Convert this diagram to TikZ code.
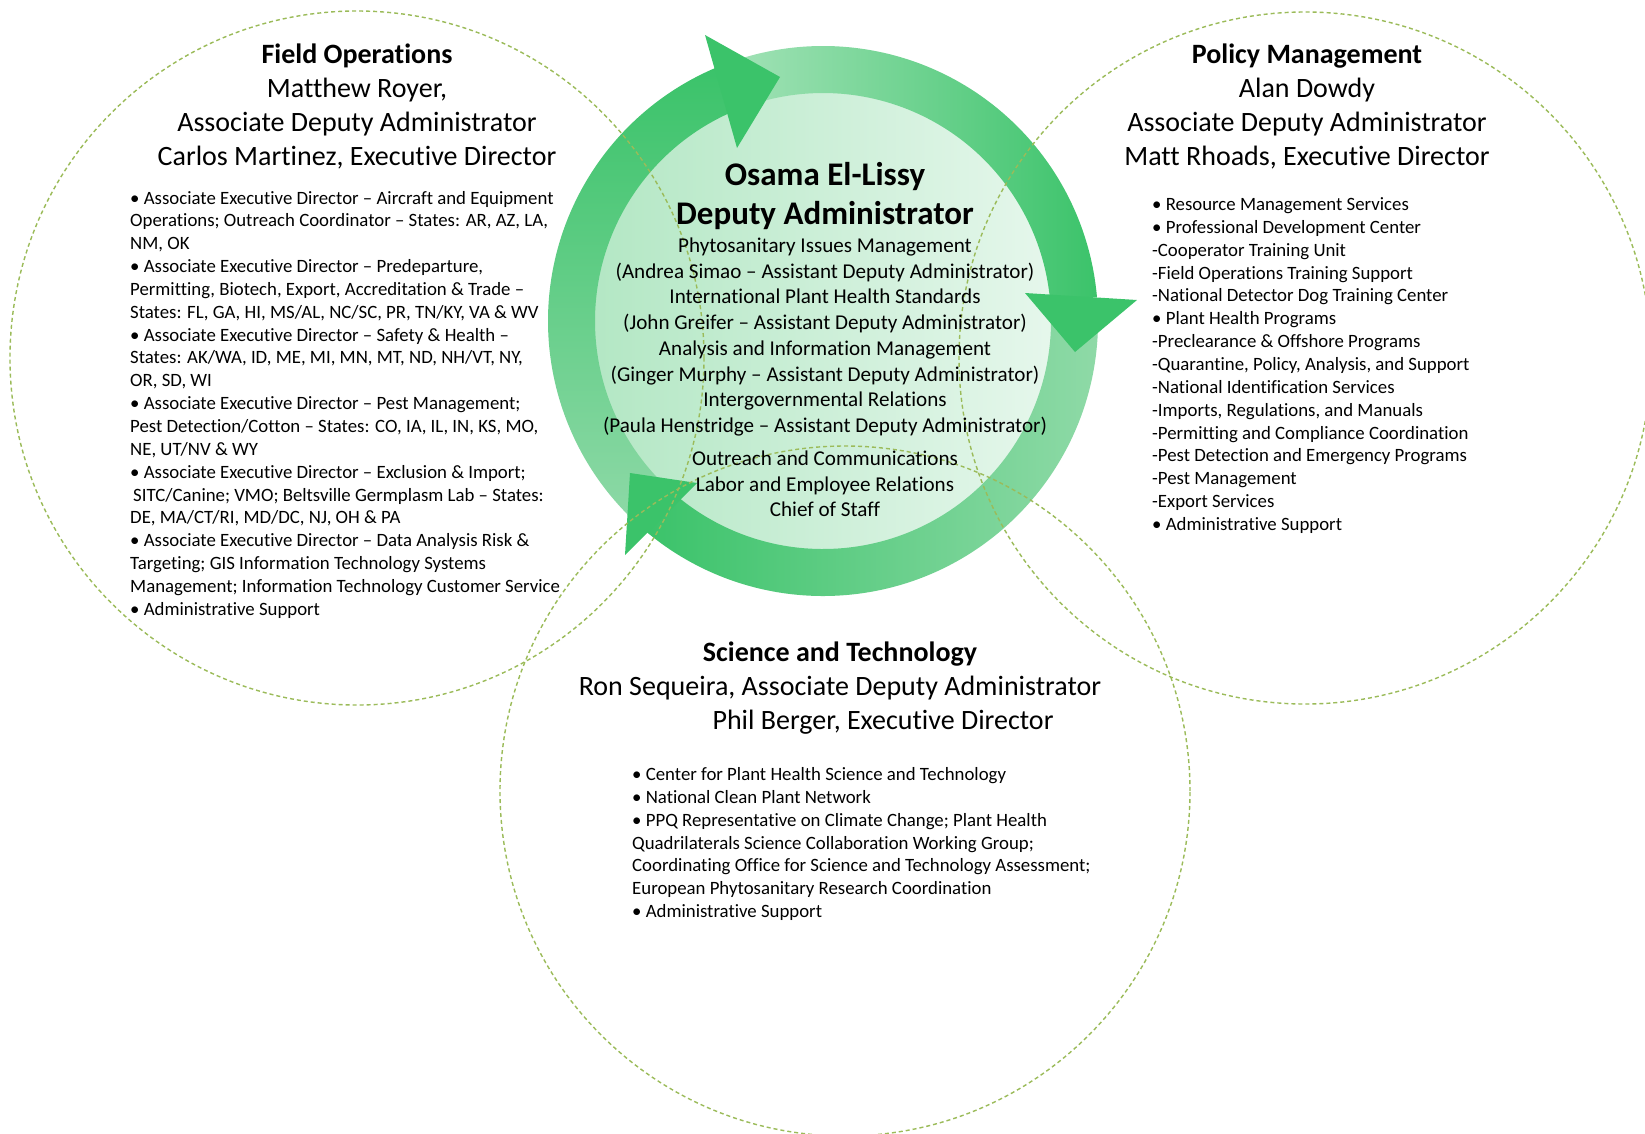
\documentclass[tikz,border=0pt]{standalone}
\usepackage{fontspec}
\setmainfont{Carlito}[Ligatures=NoCommon]
\definecolor{ringdark}{HTML}{3BC36A}
\definecolor{aonelight}{HTML}{8ED9A7}
\definecolor{atwolight}{HTML}{A5E3B9}
\definecolor{athreelight}{HTML}{90DAA8}
\definecolor{discleft}{HTML}{B3E7C4}
\definecolor{discright}{HTML}{E6F7EC}
\definecolor{dashgreen}{HTML}{9BBB59}
\begin{document}
\begin{tikzpicture}[x=1pt,y=-1pt,
  dashcirc/.style={circle, draw=dashgreen, line width=1.4pt, dash pattern=on 4pt off 3pt, inner sep=0pt},
  headtxt/.style={inner sep=0pt, anchor=base, font=\fontsize{28}{33.9}\selectfont},
  listtxt/.style={inner sep=0pt, anchor=base west, font=\fontsize{18.8}{22.85}\selectfont},
  bosstxt/.style={inner sep=0pt, anchor=base, font=\fontsize{33}{39}\selectfont\bfseries},
  midtxt/.style={inner sep=0pt, anchor=base, font=\fontsize{21.1}{25.7}\selectfont}]
\useasboundingbox (0,0) rectangle (1645,1133);
\fill[white] (0,0) rectangle (1645,1133);
\clip (0,0) rectangle (1645,1133);
\coordinate (c) at (823,321);
% inner disc
\shade[left color=discleft, right color=discright] (c) circle[radius=232];
% arrow bands
\shade[right color=athreelight, left color=ringdark]
  ([shift={(-3:275)}]c) arc[start angle=-3, end angle=130, radius=275]
  -- ([shift={(130:228)}]c) arc[start angle=130, end angle=-3, radius=228] -- cycle;
\shade[left color=atwolight, right color=ringdark]
  ([shift={(-112:275)}]c) arc[start angle=-112, end angle=-5, radius=275]
  -- ([shift={(-5:228)}]c) arc[start angle=-5, end angle=-112, radius=228] -- cycle;
\shade[bottom color=aonelight, top color=ringdark]
  ([shift={(-228:275)}]c) arc[start angle=-228, end angle=-113, radius=275]
  -- ([shift={(-113:228)}]c) arc[start angle=-113, end angle=-228, radius=228] -- cycle;
% arrow heads
\fill[ringdark] (705,35) -- (780,77) -- (737,148) -- cycle;
\fill[ringdark] (1137,300) -- (1075,352) -- (1025,293) -- cycle;
\fill[ringdark] (625,555) -- (630,473) -- (697,483) -- cycle;
% dashed circles
\node[dashcirc, minimum size=694pt] (fo) at (357,358) {};
\node[dashcirc, minimum size=692pt] (pm) at (1305,358) {};
\node[dashcirc, minimum size=690pt] (st) at (845,791) {};
% Field Operations
\node[headtxt] (fohead) at (357,63.5) {\begin{tabular}[t]{@{}c@{}}\bfseries Field Operations\\ Matthew Royer,\\ Associate Deputy Administrator\\ Carlos Martinez, Executive Director\end{tabular}};
\node[listtxt] (folist) at (130,204) {\begin{tabular}[t]{@{}l@{}}
• Associate Executive Director – Aircraft and Equipment\\
Operations; Outreach Coordinator – States: AR, AZ, LA,\\
NM, OK\\
• Associate Executive Director – Predeparture,\\
Permitting, Biotech, Export, Accreditation \& Trade –\\
States: FL, GA, HI, MS/AL, NC/SC, PR, TN/KY, VA \& WV\\
• Associate Executive Director – Safety \& Health –\\
States: AK/WA, ID, ME, MI, MN, MT, ND, NH/VT, NY,\\
OR, SD, WI\\
• Associate Executive Director – Pest Management;\\
Pest Detection/Cotton – States: CO, IA, IL, IN, KS, MO,\\
NE, UT/NV \& WY\\
• Associate Executive Director – Exclusion \& Import;\\
\hspace*{3pt}SITC/Canine; VMO; Beltsville Germplasm Lab – States:\\
DE, MA/CT/RI, MD/DC, NJ, OH \& PA\\
• Associate Executive Director – Data Analysis Risk \&\\
Targeting; GIS Information Technology Systems\\
Management; Information Technology Customer Service\\
• Administrative Support\end{tabular}};
% Policy Management
\node[headtxt] (pmhead) at (1307,63.5) {\begin{tabular}[t]{@{}c@{}}\bfseries Policy Management\\ Alan Dowdy\\ Associate Deputy Administrator\\ Matt Rhoads, Executive Director\end{tabular}};
\node[listtxt] (pmlist) at (1152,210.5) {\begin{tabular}[t]{@{}l@{}}
• Resource Management Services\\
• Professional Development Center\\
-Cooperator Training Unit\\
-Field Operations Training Support\\
-National Detector Dog Training Center\\
• Plant Health Programs\\
-Preclearance \& Offshore Programs\\
-Quarantine, Policy, Analysis, and Support\\
-National Identification Services\\
-Imports, Regulations, and Manuals\\
-Permitting and Compliance Coordination\\
-Pest Detection and Emergency Programs\\
-Pest Management\\
-Export Services\\
• Administrative Support\end{tabular}};
% Deputy Administrator
\node[bosstxt] (dahead) at (825,185.5) {\begin{tabular}[t]{@{}c@{}}Osama El-Lissy\\ Deputy Administrator\end{tabular}};
\node[midtxt] (dalist) at (825,252.5) {\begin{tabular}[t]{@{}c@{}}
Phytosanitary Issues Management\\
(Andrea Simao – Assistant Deputy Administrator)\\
International Plant Health Standards\\
(John Greifer – Assistant Deputy Administrator)\\
Analysis and Information Management\\
(Ginger Murphy – Assistant Deputy Administrator)\\
Intergovernmental Relations\\
(Paula Henstridge – Assistant Deputy Administrator)\end{tabular}};
\node[midtxt] (dastaff) at (825,465.5) {\begin{tabular}[t]{@{}c@{}}
Outreach and Communications\\
Labor and Employee Relations\\
Chief of Staff\end{tabular}};
% Science and Technology
\node[headtxt] (sthead) at (840,661.5) {\begin{tabular}[t]{@{}c@{}}\bfseries Science and Technology\\ Ron Sequeira, Associate Deputy Administrator\end{tabular}};
\node[headtxt] (stexec) at (883,729.7) {Phil Berger, Executive Director};
\node[listtxt] (stlist) at (632,780.5) {\begin{tabular}[t]{@{}l@{}}
• Center for Plant Health Science and Technology\\
• National Clean Plant Network\\
• PPQ Representative on Climate Change; Plant Health\\
Quadrilaterals Science Collaboration Working Group;\\
Coordinating Office for Science and Technology Assessment;\\
European Phytosanitary Research Coordination\\
• Administrative Support\end{tabular}};
\end{tikzpicture}
\end{document}
